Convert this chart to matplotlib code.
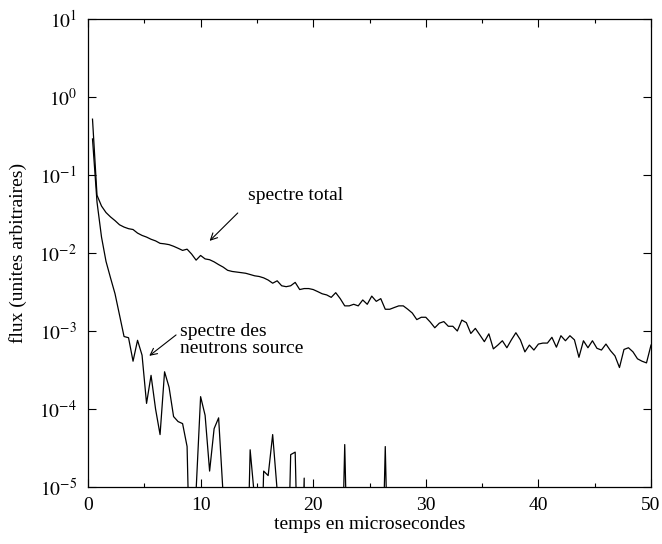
import numpy as np
import matplotlib
matplotlib.use("Agg")
import matplotlib.pyplot as plt
from matplotlib.ticker import FixedLocator, FuncFormatter, NullLocator

plt.rcParams['font.family'] = ['Liberation Serif', 'DejaVu Serif']
plt.rcParams['mathtext.fontset'] = 'stix'

# time bins (microseconds), step 0.4
time_us = [round(0.4 * i, 1) for i in range(1, 126)]

spectre_total = [
    0.52, 0.055, 0.040, 0.033, 0.029, 0.026, 0.023, 0.0215, 0.0205, 0.0200,
    0.0180, 0.0168, 0.0160, 0.0150, 0.0143, 0.0133, 0.0131, 0.0128, 0.0122, 0.0115,
    0.0108, 0.0112, 0.0097, 0.0081, 0.0093, 0.0084, 0.0082, 0.0077, 0.0071, 0.0066,
    0.0060, 0.0058, 0.0057, 0.0056, 0.0055, 0.0053, 0.0051, 0.0050, 0.0048, 0.0045,
    0.0041, 0.0044, 0.0038, 0.0037, 0.0038, 0.0042, 0.0034, 0.0035, 0.0035, 0.0034,
    0.0032, 0.0030, 0.0029, 0.0027, 0.0031, 0.0026, 0.0021, 0.0021, 0.0022, 0.0021,
    0.0025, 0.0022, 0.0028, 0.0024, 0.0026, 0.0019, 0.0019, 0.0020, 0.0021, 0.0021,
    0.0019, 0.0017, 0.0014, 0.0015, 0.0015, 0.0013, 0.0011, 0.00126, 0.00132, 0.00115,
    0.00115, 0.00100, 0.00138, 0.00128, 0.00093, 0.00108, 0.00089, 0.00073, 0.00092, 0.00059,
    0.00066, 0.00075, 0.00061, 0.00077, 0.00095, 0.00077, 0.00054, 0.00066, 0.00057, 0.00068,
    0.00070, 0.00070, 0.00083, 0.00062, 0.00087, 0.00075, 0.00087, 0.00077, 0.00046, 0.00075,
    0.00061, 0.00075, 0.00060, 0.00057, 0.00068, 0.00056, 0.00048, 0.00034, 0.00058, 0.00061,
    0.00054, 0.00044, 0.00041, 0.00039, 0.00066,
]

spectre_neutrons_source = [
    0.29, 0.045, 0.016, 0.0078, 0.0048, 0.0030, 0.0016, 0.00085, 0.00082, 0.00041,
    0.00076, 0.00049, 0.000118, 0.00027, 0.000100, 0.000047, 0.00030, 0.00019, 0.00008, 0.000069,
    0.000065, 0.000033, 1e-7, 9e-6, 0.000144, 0.000083, 0.000016, 0.000056, 0.000077, 8e-6,
    0.0, 0.0, 0.0, 0.0, 1e-7, 0.000030, 7e-6, 1e-7, 0.000016, 0.000014,
    0.000047, 9e-6, 0.0, 1e-7, 0.000026, 0.000028, 1e-7, 0.000013, 0.0, 0.0,
    0.0, 0.0, 0.0, 0.0, 0.0, 1e-7, 0.000035, 1e-7, 0.0, 0.0,
    0.0, 0.0, 0.0, 0.0, 1e-7, 0.000033, 1e-7, 0.0, 0.0, 0.0,
] + [0.0] * 55

x_ticks = [0, 10, 20, 30, 40, 50]
x_minor_ticks = [5, 15, 25, 35, 45]
y_exponents = [-5, -4, -3, -2, -1, 0, 1]

fig = plt.figure(figsize=(6.62, 5.44), dpi=100)
ax = fig.add_axes([88 / 662, 1 - 487 / 544, (651 - 88) / 662, (487 - 19) / 544])
ax.set_yscale('log', nonpositive='clip')

ax.plot(time_us, spectre_total, color='black', lw=0.9)
ax.plot(time_us, spectre_neutrons_source, color='black', lw=0.9)

ax.set_xlim(0, 50)
ax.set_ylim(1e-5, 1e1)

ax.xaxis.set_major_locator(FixedLocator(x_ticks))
ax.xaxis.set_minor_locator(FixedLocator(x_minor_ticks))
ax.yaxis.set_major_locator(FixedLocator([10.0 ** e for e in y_exponents]))
ax.yaxis.set_minor_locator(NullLocator())
ax.yaxis.set_major_formatter(FuncFormatter(lambda v, p: r'$10^{%d}$' % int(round(np.log10(v)))))
ax.xaxis.set_major_formatter(FuncFormatter(lambda v, p: '%d' % v))

ax.tick_params(which='both', direction='in', top=True, right=True, labelsize=14, width=0.8)
ax.tick_params(which='major', length=6)
ax.tick_params(which='minor', length=3)
ax.tick_params(axis='x', pad=7)
ax.tick_params(axis='y', pad=8)
for s in ax.spines.values():
    s.set_linewidth(0.9)

ax.set_xlabel('temps en microsecondes', fontsize=14)
ax.set_ylabel('flux (unites arbitraires)', fontsize=14)
ax.xaxis.set_label_coords(0.5, (487 - 516) / 468)
ax.yaxis.set_label_coords((27 - 88) / 563, 0.5)

arrow_kw = dict(arrowstyle='->', lw=0.8, color='black', mutation_scale=12, shrinkA=0, shrinkB=0)
ax.annotate('', xy=(10.8, 0.0143), xytext=(13.3, 0.0326), arrowprops=arrow_kw)
ax.text(14.2, 0.0554, 'spectre total', fontsize=14, ha='left', va='center')

ax.annotate('', xy=(5.44, 0.00048), xytext=(7.82, 0.00089), arrowprops=arrow_kw)
ax.text(8.17, 0.00077, 'spectre des\nneutrons source', fontsize=14, ha='left', va='center',
        linespacing=0.95)

fig.savefig('out.png', dpi=100)
